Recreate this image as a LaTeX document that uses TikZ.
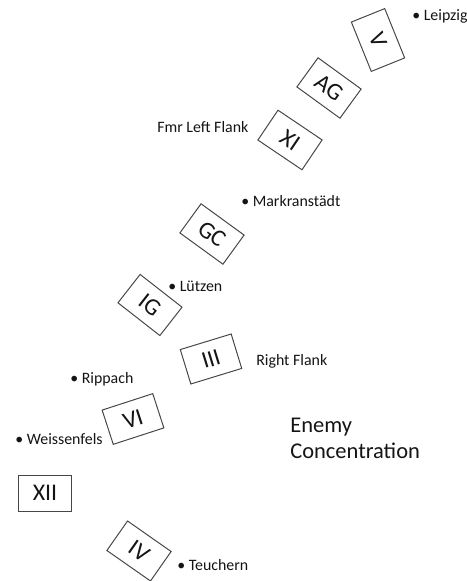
\documentclass[tikz,border=0pt]{standalone}
\usepackage{fontspec}
\setmainfont{Carlito}
\usepackage{xcolor}
\usepackage{tikz}
\definecolor{boxLine} {RGB}{70, 70, 70}
\definecolor{inkGray} {RGB}{20, 20, 20}

\tikzset{
  corps/.style={draw=boxLine,line width=0.7pt,minimum width=1.33cm,
                minimum height=0.9cm,inner sep=2pt,text=inkGray,
                font=\fontsize{17}{20}\selectfont},
  town/.style={anchor=base west,inner sep=0pt,text=inkGray,
               font=\fontsize{11.3}{13}\selectfont}
}

\begin{document}
\begin{tikzpicture}

    \useasboundingbox (0,0) rectangle (11.65,14.525);

    % ── CORPS ──────────────────────────────────────────────
    \node[corps,rotate=-68] (corpsV)   at (9.45,13.525) {V};
    \node[corps,rotate=-36] (corpsAG)  at (8.225,12.325){AG};
    \node[corps,rotate=-34] (corpsXI)  at (7.25,11.025) {XI};
    \node[corps,rotate=-36] (corpsGC)  at (5.3,8.675)   {GC};
    \node[corps,rotate=-38] (corpsIG)  at (3.75,6.9)    {IG};
    \node[corps,rotate=17]  (corpsIII) at (5.275,5.55)  {III};
    \node[corps,rotate=18]  (corpsVI)  at (3.325,4.05)  {VI};
    \node[corps]            (corpsXII) at (1.125,2.2)   {XII};
    \node[corps,rotate=-35] (corpsIV)  at (3.475,0.75)  {IV};

    % ── TOWNS ──────────────────────────────────────────────
    \node[town] (townLeipzig) at (10.3,14.0)  {• Leipzig};
    \node[town] (townMarkr)   at (6.025,9.35) {• Markranstädt};
    \node[town] (townLuetzen) at (4.2,7.225)  {• Lützen};
    \node[town] (townRippach) at (1.75,4.925) {• Rippach};
    \node[town] (townWeiss)   at (0.375,3.4)  {• Weissenfels};
    \node[town] (townTeuch)   at (4.425,0.25) {• Teuchern};

    % flanken
    \node[town] (leftFlank)  at (3.925,11.2) {Fmr Left Flank};
    \node[town] (rightFlank) at (6.4,5.375)  {Right Flank};

    % gegner
    \node[town,align=left,font=\fontsize{16}{18.5}\selectfont] (enemy)
      at (7.25,3.05) {Enemy\\Concentration};

\end{tikzpicture}
\end{document}
